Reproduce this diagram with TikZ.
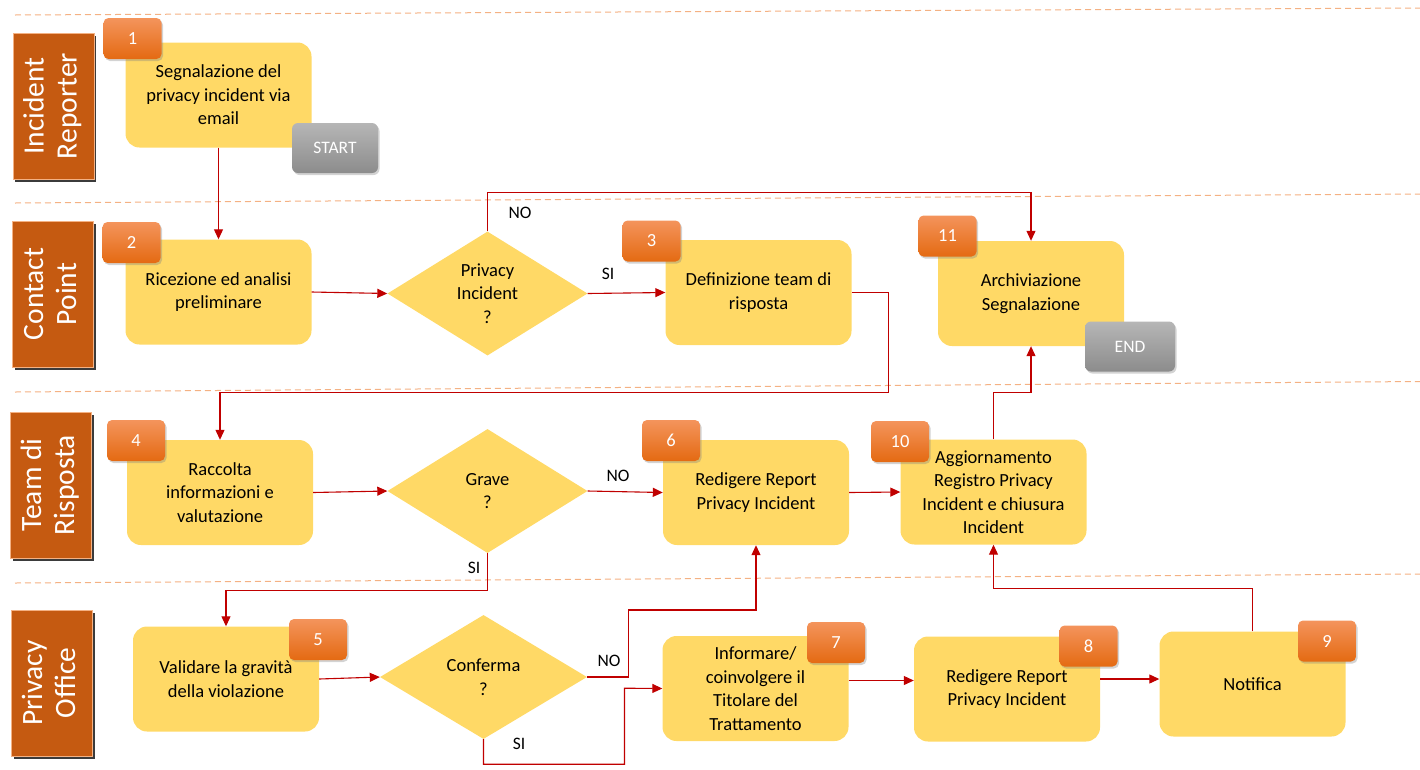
\documentclass[tikz,border=0pt]{standalone}
\usepackage{fontspec}
\setmainfont{Carlito}
\usepackage{graphicx}
\usetikzlibrary{shapes.geometric,arrows.meta,shadows}

\definecolor{laneBrown}{HTML}{C55A11}
\definecolor{laneEdge}{HTML}{F4B183}
\definecolor{taskYellow}{HTML}{FFD966}
\definecolor{badgeTop}{HTML}{F4945C}
\definecolor{badgeBot}{HTML}{E46A12}
\definecolor{flowRed}{HTML}{C00000}
\definecolor{sepOrange}{HTML}{F4B183}
\definecolor{greyTop}{HTML}{B6B6B6}
\definecolor{greyBot}{HTML}{8C8C8C}

\newcommand{\lanetext}[2]{\rotatebox{90}{\begin{tabular}{@{}c@{}}#1\\#2\end{tabular}}}

\tikzset{
  lane/.style={draw=laneEdge, line width=0.8pt, fill=laneBrown, minimum width=81pt,
    minimum height=146pt, inner sep=0pt, text=white, font=\fontsize{29.5}{33}\selectfont,
    drop shadow={shadow xshift=2pt, shadow yshift=-3pt, fill=black!85, opacity=0.9}},
  task/.style={fill=taskYellow, rounded corners=14pt, minimum width=186pt, minimum height=105pt,
    align=center, text=black, font=\fontsize{18.5}{23.5}\selectfont, inner sep=2pt},
  decision/.style={diamond, fill=taskYellow, minimum width=200pt, minimum height=124pt,
    inner sep=0pt, align=center, text=black, font=\fontsize{18.5}{23.5}\selectfont},
  badge/.style={rounded corners=5pt, minimum width=58pt, minimum height=41pt,
    top color=badgeTop, bottom color=badgeBot, text=white, font=\fontsize{18.5}{20}\selectfont,
    drop shadow={shadow xshift=1.5pt, shadow yshift=-2pt, opacity=0.35}},
  terminal/.style={rounded corners=6pt, minimum width=86pt, minimum height=50pt,
    top color=greyTop, bottom color=greyBot, text=white, font=\fontsize{17.5}{20}\selectfont,
    drop shadow={shadow xshift=1.5pt, shadow yshift=-2pt, opacity=0.35}},
  flow/.style={draw=flowRed, line width=1.1pt, -{Triangle[length=10pt,width=9pt]}},
  lanesep/.style={draw=sepOrange, line width=1pt, dash pattern=on 6pt off 4pt},
  answer/.style={font=\fontsize{17.5}{20}\selectfont, text=black}
}

\begin{document}
\begin{tikzpicture}[x=1pt, y=-1pt]
  \useasboundingbox (0,0) rectangle (1420,769);

  % Lane separators
  \draw[lanesep] (15,15) -- (1420,8);
  \draw[lanesep] (15,203) -- (1420,194);
  \draw[lanesep] (15,392) -- (1420,381.5);
  \draw[lanesep] (15,583) -- (1420,574);

  % Lanes
  \node[lane] (laneIR) at (53.5,106) {\lanetext{Incident}{Reporter}};
  \node[lane] (laneCP) at (53,294) {\lanetext{Contact}{Point}};
  \node[lane] (laneTR) at (51,485) {\lanetext{Team di}{Risposta}};
  \node[lane] (lanePO) at (52,683) {\lanetext{Privacy}{Office}};

  % Tasks
  \node[task] (b1) at (218.5,95) {Segnalazione del\\privacy incident via\\email};
  \node[task] (b2) at (218.5,292) {Ricezione ed analisi\\preliminare};
  \node[task] (b3) at (758.5,292.5) {Definizione team di\\risposta};
  \node[task] (b11) at (1031,293.5) {Archiviazione\\Segnalazione};
  \node[task] (b4) at (220,492.5) {Raccolta\\informazioni e\\valutazione};
  \node[task] (b6) at (756,492.5) {Redigere Report\\Privacy Incident};
  \node[task] (b10) at (993.5,492) {Aggiornamento\\Registro Privacy\\Incident e chiusura\\Incident};
  \node[task] (b5) at (226,679) {Validare la gravità\\della violazione};
  \node[task] (b7) at (755.5,688.5) {Informare/\\coinvolgere il\\Titolare del\\Trattamento};
  \node[task] (b8) at (1007,689) {Redigere Report\\Privacy Incident};
  \node[task] (b9) at (1252.5,684) {Notifica};

  % Decisions
  \node[decision] (d1) at (487.5,293.5) {Privacy\\Incident\\?};
  \node[decision] (d2) at (487.5,491) {Grave\\?};
  \node[decision, minimum width=207pt] (d3) at (483.5,677) {Conferma\\?};

  % Badges
  \node[badge] (n1) at (132.5,38.5) {1};
  \node[badge] (n2) at (131.5,242.5) {2};
  \node[badge] (n3) at (651.5,241) {3};
  \node[badge] (n11) at (947.5,236) {11};
  \node[badge] (n4) at (136,440.5) {4};
  \node[badge] (n6) at (671,440.5) {6};
  \node[badge] (n10) at (900,441.5) {10};
  \node[badge] (n5) at (318,639.5) {5};
  \node[badge] (n7) at (836,642.5) {7};
  \node[badge] (n8) at (1088.5,646) {8};
  \node[badge] (n9) at (1327,641) {9};

  % Start / end
  \node[terminal] (start) at (335,148) {START};
  \node[terminal, minimum width=90pt] (end) at (1130,346.5) {END};

  % Connectors
  \draw[flow] (b1.south) -- (b2.north);
  \draw[flow] (b2.east) -- (d1.west);
  \draw[flow] (d1.east) -- (b3.west);
  \draw[flow] (d1.north) -- ++(0,-39) -| (b11.north);
  \draw[flow] (b3.east) -- ++(37,0) -- ++(0,100) -| (b4.north);
  \draw[flow] (b4.east) -- (d2.west);
  \draw[flow] (d2.east) -- (b6.west);
  \draw[flow] (d2.south) -- ++(0,37) -| (b5.north);
  \draw[flow] (b5.east) -- (d3.west);
  \draw[flow] (d3.east) -- ++(41,0) -- ++(0,-67) -| (b6.south);
  \draw[flow] (d3.south) -- ++(0,25) -| ++(141,-76) -- (b7.west);
  \draw[flow] ([yshift=8pt]b7.east) -- ([yshift=8pt]b7.east -| b8.west);
  \draw[flow] ([yshift=10pt]b8.east) -- ([yshift=10pt]b8.east -| b9.west);
  \draw[flow] (b6.east) -- (b10.west);
  \draw[flow] (b9.north) -- ++(0,-43) -| (b10.south);
  \draw[flow] (b10.north) -- ++(0,-47) -| (b11.south);

  % Answers
  \node[answer] (noD1) at (520,213) {NO};
  \node[answer] (siD1) at (608,274) {SI};
  \node[answer] (noD2) at (618,476) {NO};
  \node[answer] (siD2) at (474,568) {SI};
  \node[answer] (noD3) at (609,661) {NO};
  \node[answer] (siD3) at (519,744) {SI};
\end{tikzpicture}
\end{document}
